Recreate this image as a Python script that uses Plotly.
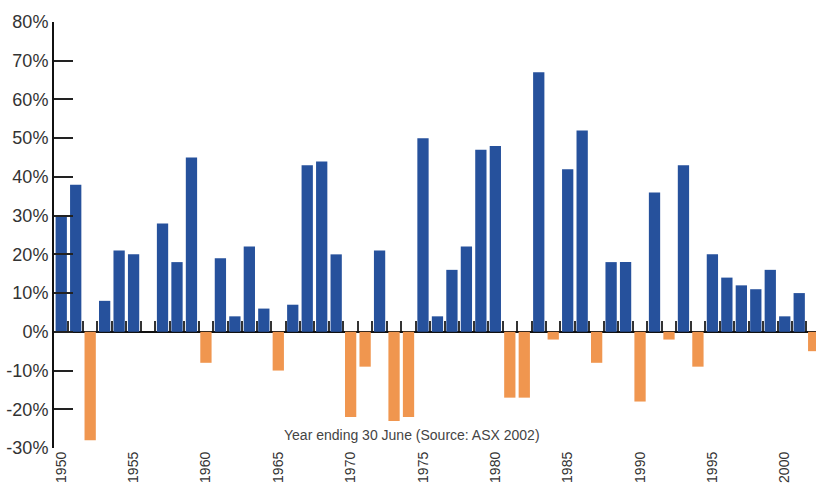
import plotly.graph_objects as go

years = list(range(1950, 2003))
returns = [30, 38, -28, 8, 21, 20, 0, 28, 18, 45,
           -8, 19, 4, 22, 6, -10, 7, 43, 44, 20,
           -22, -9, 21, -23, -22, 50, 4, 16, 22, 47,
           48, -17, -17, 67, -2, 42, 52, -8, 18, 18,
           -18, 36, -2, 43, -9, 20, 14, 12, 11, 16,
           4, 10, -5]
label_years = list(range(1950, 2001, 5))
y_ticks = list(range(-30, 81, 10))
y_labels = [f"{v}%" for v in y_ticks]

BLUE = "#26519C"
ORANGE = "#F0964F"
colors = [BLUE if v >= 0 else ORANGE for v in returns]

ymin, ymax = -30, 80
xmin, xmax = years[0] - 0.5, 2002.16

fig = go.Figure()
fig.add_trace(go.Bar(x=years, y=returns, marker=dict(color=colors, line=dict(width=0)),
                     width=0.78, xaxis="x", yaxis="y", hoverinfo="x+y"))
# dummy trace so the label axis is drawn
fig.add_trace(go.Scatter(x=[None], y=[None], xaxis="x2", yaxis="y",
                         showlegend=False, hoverinfo="skip"))

font = "Liberation Sans, Arial, Helvetica, sans-serif"

fig.update_layout(
    width=816, height=485,
    margin=dict(l=54, r=0, t=22, b=37, autoexpand=False),
    paper_bgcolor="white", plot_bgcolor="white",
    showlegend=False,
    font=dict(family=font, color="#333333"),
    xaxis=dict(
        range=[xmin, xmax], automargin=False,
        anchor="free", position=(0 - ymin) / (ymax - ymin),
        showline=True, linecolor="#111111", linewidth=2,
        ticks="inside", ticklen=10, tickwidth=2, tickcolor="#333333",
        tickvals=[y + 0.5 for y in years[:-1]],
        showticklabels=False, showgrid=False, zeroline=False,
        layer="below traces",
    ),
    xaxis2=dict(
        overlaying="x", matches="x", anchor="y", side="bottom",
        range=[xmin, xmax], automargin=False,
        tickvals=label_years, ticktext=[str(y) for y in label_years],
        tickangle=-90, tickfont=dict(size=14, color="#333333"),
        ticks="", ticklabelstandoff=0,
        showline=False, showgrid=False, zeroline=False,
    ),
    yaxis=dict(
        range=[ymin, ymax], automargin=False,
        tickvals=y_ticks, ticktext=y_labels,
        tickfont=dict(size=18, color="#333333"),
        showline=True, linecolor="#111111", linewidth=2,
        ticks="inside", ticklen=19, tickwidth=2, tickcolor="#222222",
        showgrid=False, zeroline=False,
    ),
    annotations=[dict(
        text="Year ending 30 June (Source: ASX 2002)",
        xref="paper", yref="paper", x=0.47, y=0.03,
        xanchor="center", yanchor="middle", showarrow=False,
        font=dict(size=14, color="#444444", family=font),
    )],
)

# remove the page's default body margin so the figure sits at the window's corner
fig.write_html("out.html", config={"displayModeBar": False},
               post_script="document.body.style.margin='0';")
